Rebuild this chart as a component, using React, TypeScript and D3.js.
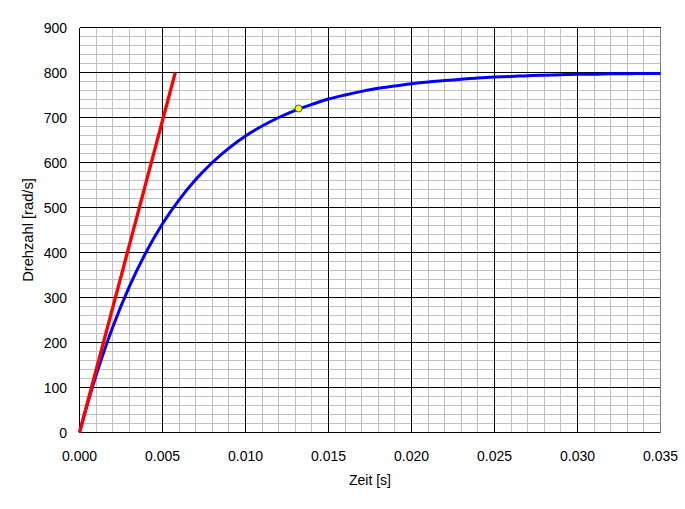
import React from "react";
import * as d3 from "d3";

const blueTimes = [0, 0.0005, 0.001, 0.0015, 0.002, 0.003, 0.004, 0.005, 0.006, 0.007, 0.008, 0.009, 0.010, 0.011, 0.012, 0.013, 0.014, 0.015, 0.016, 0.017, 0.018, 0.019, 0.020, 0.021, 0.022, 0.023, 0.024, 0.025, 0.026, 0.027, 0.028, 0.029, 0.030, 0.031, 0.032, 0.033, 0.034, 0.035];
const blueValues = [0, 66, 127, 183, 234, 324, 400, 464, 517, 562, 600, 632, 659, 681, 700, 716, 729, 741, 750, 758, 765, 770, 775, 779, 782, 785, 788, 790, 791, 793, 794, 795, 796, 796, 797, 797, 798, 798];

const redTimes = [0, 0.00577];
const redValues = [0, 800];

const markerTime = [0.0132];
const markerValue = [720];

const xMajorTicks = [0, 0.005, 0.01, 0.015, 0.02, 0.025, 0.03, 0.035];
const xTickLabels = ["0.000", "0.005", "0.010", "0.015", "0.020", "0.025", "0.030", "0.035"];
const yMajorTicks = [0, 100, 200, 300, 400, 500, 600, 700, 800, 900];
const xMinorStep = 0.001;
const yMinorStep = 20;

const xTitle = "Zeit [s]";
const yTitle = "Drehzahl [rad/s]";

export default function App() {
  const W = 685, H = 509;
  const x = d3.scaleLinear().domain([0, 0.035]).range([79.5, 660.5]);
  const y = d3.scaleLinear().domain([0, 900]).range([432.5, 27.5]);

  const xMinor = d3.range(0, 35 + 1).map((i) => i * xMinorStep);
  const yMinor = d3.range(0, 900 / yMinorStep + 1).map((i) => i * yMinorStep);

  const line = d3
    .line<[number, number]>()
    .x((d) => x(d[0]))
    .y((d) => y(d[1]))
    .curve(d3.curveMonotoneX);
  const straight = d3
    .line<[number, number]>()
    .x((d) => x(d[0]))
    .y((d) => y(d[1]));

  const blueData: [number, number][] = blueTimes.map((t, i) => [t, blueValues[i]]);
  const redData: [number, number][] = redTimes.map((t, i) => [t, redValues[i]]);

  const font = "Arial, 'Liberation Sans', sans-serif";

  return (
    <svg
      width={W}
      height={H}
      style={{ position: "absolute", left: 0, top: 0, background: "#fff" }}
    >
      <rect x={0} y={0} width={W} height={H} fill="#fff" />
      {/* minor grid */}
      <g stroke="#c0c0c0" strokeWidth={1} shapeRendering="crispEdges">
        {xMinor.map((t, i) => (
          <line key={"xm" + i} x1={x(t)} x2={x(t)} y1={y(0)} y2={y(900)} />
        ))}
        {yMinor.map((v, i) => (
          <line key={"ym" + i} x1={x(0)} x2={x(0.035)} y1={y(v)} y2={y(v)} />
        ))}
      </g>
      {/* major grid */}
      <g stroke="#000" strokeWidth={1} shapeRendering="crispEdges">
        {xMajorTicks.slice(0, -1).map((t, i) => (
          <line key={"xM" + i} x1={x(t)} x2={x(t)} y1={y(0)} y2={y(900)} />
        ))}
        {yMajorTicks.map((v, i) => (
          <line key={"yM" + i} x1={x(0)} x2={x(0.035)} y1={y(v)} y2={y(v)} />
        ))}
      </g>
      <line
        x1={x(0.035)}
        x2={x(0.035)}
        y1={y(0)}
        y2={y(900)}
        stroke="#808080"
        strokeWidth={1}
        shapeRendering="crispEdges"
      />
      {/* series */}
      <path d={line(blueData) || ""} fill="none" stroke="#0000ff" strokeWidth={3} />
      <path d={straight(redData) || ""} fill="none" stroke="#ff0000" strokeWidth={3.3} />
      <circle
        cx={x(markerTime[0])}
        cy={y(markerValue[0])}
        r={3.5}
        fill="#ffff00"
        stroke="#008000"
        strokeWidth={1}
      />
      {/* axes labels */}
      <g fontFamily={font} fontSize={14} fill="#000">
        {xMajorTicks.map((t, i) => (
          <text key={"xl" + i} x={x(t)} y={461} textAnchor="middle">
            {xTickLabels[i]}
          </text>
        ))}
        {yMajorTicks.map((v, i) => (
          <text key={"yl" + i} x={67} y={y(v) + 5} textAnchor="end">
            {v}
          </text>
        ))}
        <text x={370} y={485} textAnchor="middle">
          {xTitle}
        </text>
        <text
          transform={`translate(33, 230) rotate(-90)`}
          textAnchor="middle"
          fontSize={14.7}
        >
          {yTitle}
        </text>
      </g>
    </svg>
  );
}
